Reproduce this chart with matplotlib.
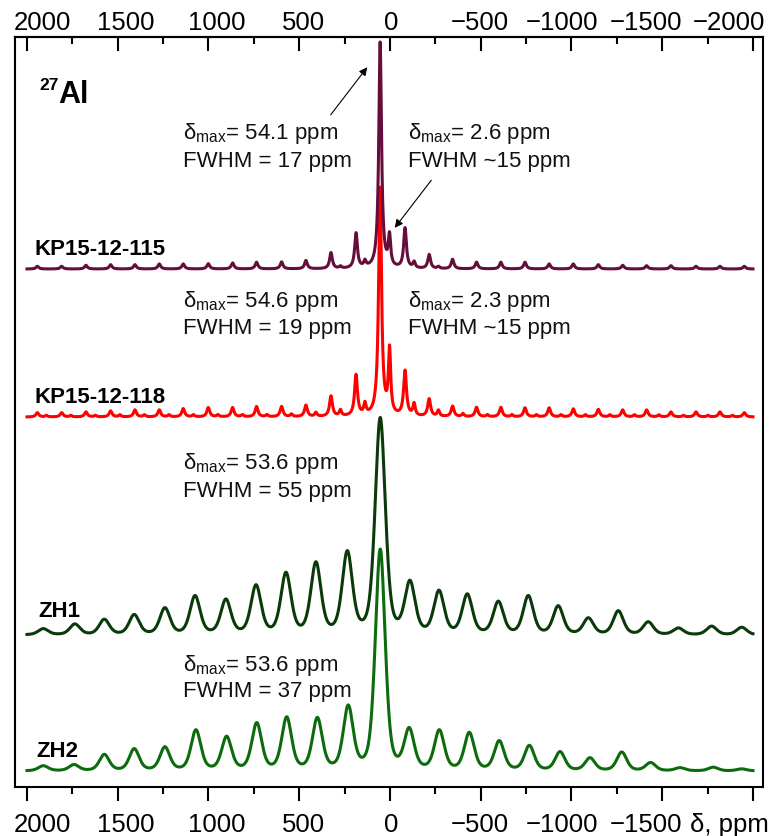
import numpy as np
import matplotlib
matplotlib.use('Agg')
import matplotlib.pyplot as plt
from matplotlib.ticker import MultipleLocator

plt.rcParams['font.family'] = ['Liberation Sans', 'DejaVu Sans']

# x ticks (ppm) and where their labels sit (the labels are squeezed a bit in the original)
ticks = [2000, 1500, 1000, 500, 0, -500, -1000, -1500, -2000]
top_labels = ['2000', '1500', '1000', '500', '0', '\u2212500', '\u22121000', '\u22121500', '\u22122000']
bottom_labels = ['2000', '1500', '1000', '500', '0', '\u2212500', '\u22121000', '\u22121500', '\u03b4, ppm']
label_pos = [1915, 1455, 953, 474, -9, -496, -948, -1410, -1870]

# KP15-12-115: tetrahedral line + spinning sidebands (ppm, height)
kp115_tet_pos = [1943, 1809, 1675, 1539, 1405, 1271, 1139, 1001, 867, 735, 597, 463, 325, 187,
                 54.1,
                 -83, -216, -345, -477, -611, -744, -877, -1010, -1148, -1282, -1414, -1548, -1686, -1818, -1952]
kp115_tet_h = [2.7, 2.7, 3.7, 4.3, 4.3, 5, 5, 5.3, 6, 6.7, 7, 8.3, 16, 35,
               226,
               40, 14, 9.5, 6.7, 6.7, 6.7, 5, 5, 4.3, 3.7, 3.3, 3.3, 2.7, 2.7, 2.7]
kp115_oct_pos = [273, 138, 2.6, -133, -267]
kp115_oct_h = [2, 6, 30, 6, 2]

# KP15-12-118
kp118_tet_pos = [1943, 1809, 1675, 1539, 1405, 1271, 1139, 1001, 867, 735, 597, 463, 325, 187,
                 54.6,
                 -83, -216, -345, -477, -611, -744, -877, -1010, -1148, -1282, -1414, -1548, -1686, -1818, -1952]
kp118_tet_h = [4.3, 4.3, 5, 6, 7, 7, 8.3, 9.3, 9.3, 10.3, 10.3, 11.5, 20.5, 41,
               228,
               45, 17.5, 10.5, 9.5, 9.5, 9, 9, 8, 7.5, 7, 7, 5, 5, 5, 4.3]
kp118_oct_pos = [1893, 1758, 1623, 1488, 1353, 1218, 1083, 948, 813, 678, 543, 408, 273, 138,
                 2.3,
                 -133, -267, -402, -537, -672, -807, -942, -1077, -1212, -1347, -1482, -1617, -1752, -1887]
kp118_oct_h = [1.5, 1.5, 1.5, 2, 2, 2, 2, 2, 2, 2, 2.5, 4, 6, 11,
               64,
               12, 6, 3, 2, 2, 2, 2, 2, 2, 2, 2, 1.5, 1.5, 1.5]

# ZH1
zh1_pos = [1910, 1736, 1574, 1409, 1240, 1074, 904, 738, 573, 408, 235,
           53.6,
           -110, -270, -426, -597, -762, -927, -1093, -1258, -1423, -1589, -1772, -1938]
zh1_h = [6, 10.5, 15, 19.5, 26, 38, 34, 48, 60, 70, 80,
         215,
         50, 42, 39, 32, 38, 28, 16, 23.5, 12.5, 6.5, 8.5, 7.5]

# ZH2
zh2_pos = [1910, 1741, 1574, 1409, 1240, 1069, 900, 734, 569, 400, 230,
           53.6,
           -106, -272, -437, -602, -768, -937, -1102, -1277, -1436, -1598, -1781, -1938]
zh2_h = [5, 6, 16, 21.5, 23, 40, 33, 46.5, 52, 51, 62,
         220,
         39, 39, 37, 29, 24.5, 18.5, 12.5, 18.5, 8, 3, 3.6, 2]


def lines(x, pos, h, fwhm, eta):
    y = np.zeros_like(x)
    for p, a in zip(pos, h):
        d = (x - p) / (fwhm / 2)
        y += a * (eta / (1 + d ** 2) + (1 - eta) * np.exp(-np.log(2) * d ** 2))
    return y


x = np.linspace(2000, -2000, 8001)

y115 = lines(x, kp115_tet_pos, kp115_tet_h, 18, 1.0) + lines(x, kp115_oct_pos, kp115_oct_h, 15, 1.0)
y118 = lines(x, kp118_tet_pos, kp118_tet_h, 19, 1.0) + lines(x, kp118_oct_pos, kp118_oct_h, 15, 1.0)
yzh1 = lines(x, zh1_pos, zh1_h, 66, 0.4)
yzh2 = lines(x, zh2_pos, zh2_h, 64, 0.4)

fig = plt.figure(figsize=(7.76, 8.36), dpi=100)
ax = fig.add_axes([0.0193, 0.0586, 0.9639, 0.8971])

ax.plot(x, yzh2 + 16, color='#0d6b0d', lw=2.2)
ax.plot(x, yzh1 + 152, color='#0a3a0a', lw=2.2)
ax.plot(x, y118 + 370, color='#ff0000', lw=2.2)
ax.plot(x, y115 + 518, color='#650d3b', lw=2.2)

ax.set_xlim(2066, -2055)
ax.set_ylim(0, 750)
ax.set_yticks([])
for s in ax.spines.values():
    s.set_linewidth(1.5)

ax.set_xticks(ticks)
ax.xaxis.set_minor_locator(MultipleLocator(250))
ax.tick_params(axis='x', which='major', direction='out', length=10, width=1.5, labelbottom=False)
ax.tick_params(axis='x', which='minor', direction='out', length=5, width=1.5)

sec = ax.secondary_xaxis('top')
sec.set_xticks(ticks)
sec.xaxis.set_minor_locator(MultipleLocator(250))
sec.tick_params(axis='x', which='major', direction='in', length=10, width=1.5, labeltop=False)
sec.tick_params(axis='x', which='minor', direction='in', length=5, width=1.5)
sec.spines['top'].set_linewidth(1.5)

for p, t, b in zip(label_pos, top_labels, bottom_labels):
    ax.text(p, 757, t, fontsize=18.5, ha='center', va='baseline')
    ax.text(p, -45, b, fontsize=18.5, ha='center', va='baseline')

# sample labels
lab_kw = dict(fontsize=16, fontweight='bold', va='baseline', ha='left')
ax.text(1956, 532, 'KP15-12-115', **lab_kw)
ax.text(1956, 384, 'KP15-12-118', **lab_kw)
ax.text(1939, 170, 'ZH1', **lab_kw)
ax.text(1950, 30, 'ZH2', **lab_kw)

ax.text(1932, 709, '27', fontsize=12.5, fontweight='bold', va='top', ha='left')
ax.text(1825, 684, 'Al', fontsize=22, fontweight='bold', va='baseline', ha='left')

# peak annotations
ann_kw = dict(fontsize=16, va='baseline', ha='left', color='#111111')
notes = [
    (1140, 648, 620, '54.1 ppm', 'FWHM = 17 ppm'),
    (-99, 648, 620, '2.6 ppm', 'FWHM ~15 ppm'),
    (1140, 480, 453, '54.6 ppm', 'FWHM = 19 ppm'),
    (-99, 480, 453, '2.3 ppm', 'FWHM ~15 ppm'),
    (1140, 318, 290, '53.6 ppm', 'FWHM = 55 ppm'),
    (1140, 116, 90, '53.6 ppm', 'FWHM = 37 ppm'),
]
for nx, y1, y2, d, f in notes:
    ax.text(nx, y1, '\u03b4$_{\\mathregular{max}}$= ' + d, **ann_kw)
    ax.text(nx, y2, f, **ann_kw)

arrow = dict(arrowstyle='-|>', color='black', lw=0.8, mutation_scale=12)
ax.annotate('', xy=(116, 722), xytext=(336, 670), arrowprops=arrow)
ax.annotate('', xy=(-17, 557), xytext=(-237, 609), arrowprops=arrow)

fig.savefig('out.png', dpi=100)
